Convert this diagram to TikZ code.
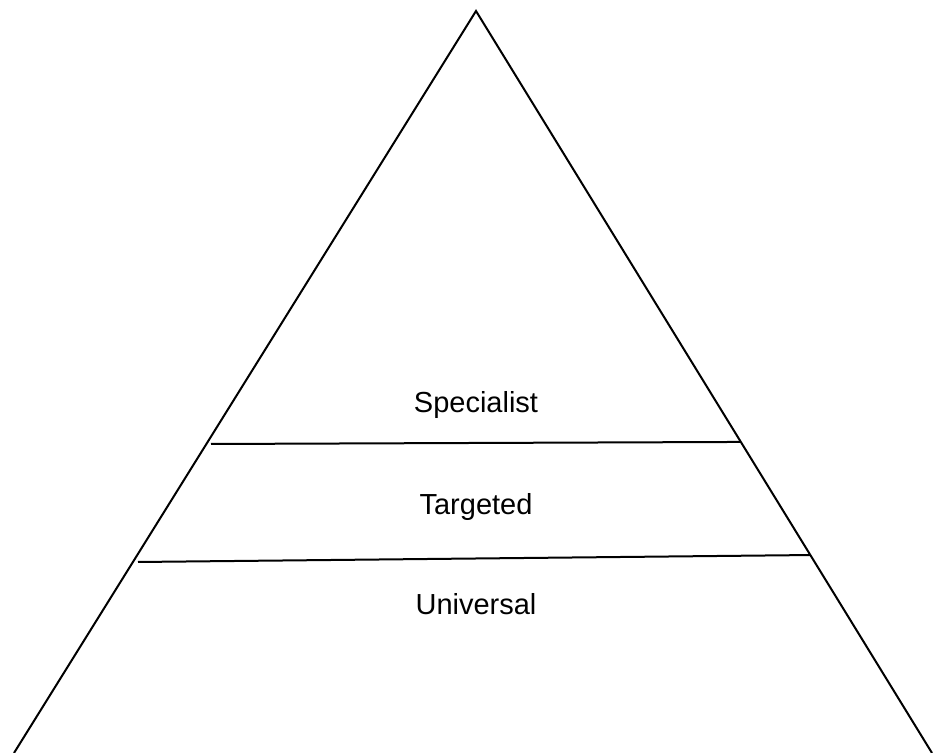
\documentclass[tikz,border=0pt]{standalone}
\usepackage{fontspec}
\setmainfont{Liberation Sans}
\usetikzlibrary{calc}

\begin{document}
\begin{tikzpicture}[x=0.5pt,y=-0.5pt,
    edge/.style={line width=1pt},
    tier/.style={font=\fontsize{14.5}{17}\selectfont,inner sep=0pt,anchor=base}]
      \useasboundingbox (0,0) rectangle (933,753);

      \coordinate (top) at (476,11);
      \coordinate (bl) at (14,753);
      \coordinate (br) at (932,753);
      \draw[edge] (bl)--(top)--(br);

      \coordinate (s0) at (211,444);
      \coordinate (s1) at ($(top)!0.5808!(br)$);
      \coordinate (t0) at (138,562);
      \coordinate (t1) at ($(top)!0.7332!(br)$);
      \draw[edge] (s0)--(s1);
      \draw[edge] (t0)--(t1);

      \node[tier] (spec) at (476,413) {Specialist};
      \node[tier] (targ) at (476,515) {Targeted};
      \node[tier] (univ) at (476,615) {Universal};
\end{tikzpicture}
\end{document}
